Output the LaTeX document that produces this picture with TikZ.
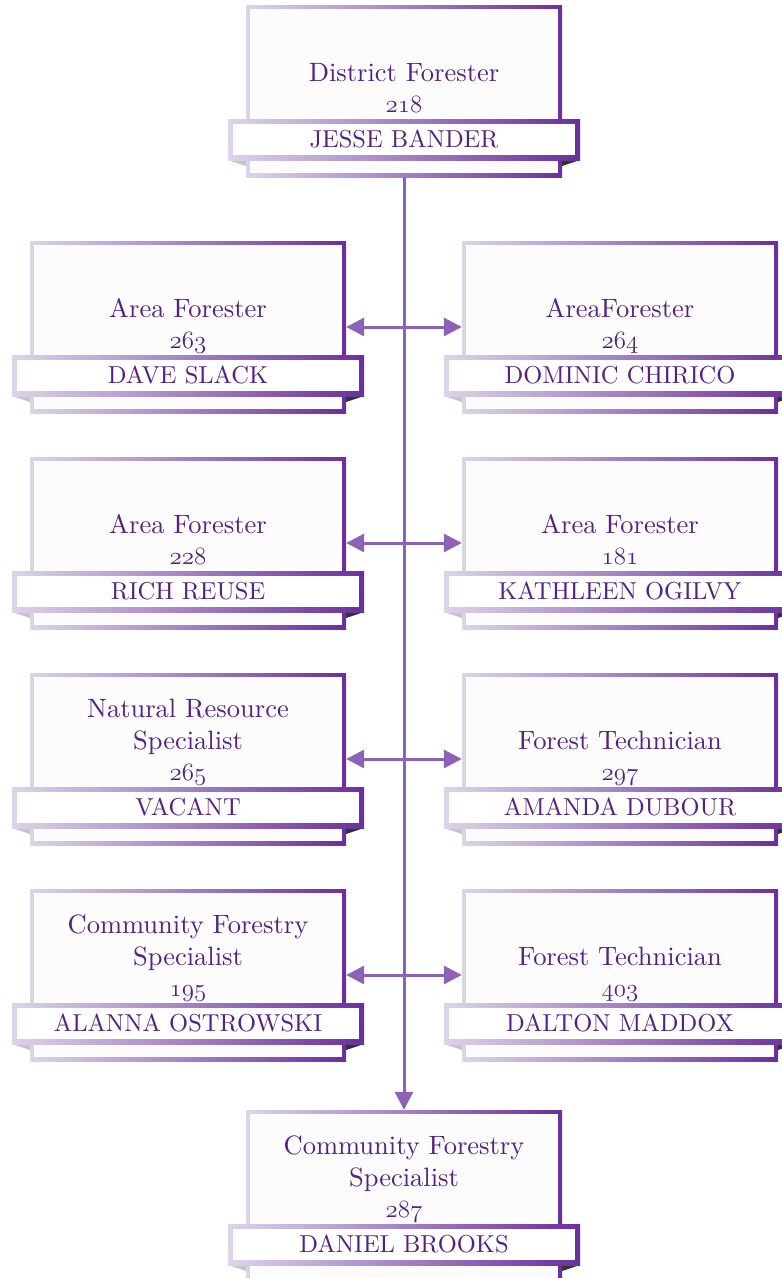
\documentclass[tikz,border=0pt]{standalone}
\usepackage{fontspec}
\setmainfont{lmroman10-regular}[Extension=.otf]
\usetikzlibrary{arrows.meta}
\definecolor{bl}{HTML}{DCD4E8}
\definecolor{br}{HTML}{6A2F9C}
\definecolor{tx}{HTML}{55207F}
\definecolor{ar}{HTML}{8A62B6}
\definecolor{inw}{HTML}{FCFCFD}
\newcommand\osnum[1]{{\usefont{OML}{cmm}{m}{it}#1}}
\tikzset{
 ttl/.style={anchor=base, text=tx, inner sep=0, font=\fontsize{26.5}{30}\selectfont},
 nm/.style={anchor=base, text=tx, inner sep=0, font=\fontsize{24.5}{28}\selectfont},
 conn/.style={draw=ar, line width=3pt},
 tip/.style={arrows={-Triangle[length=18pt,width=18pt]}},
 tips/.style={arrows={Triangle[length=18pt,width=18pt]-Triangle[length=18pt,width=18pt]}},
 anchorbox/.style={inner sep=0, minimum width=316pt, minimum height=172pt}
}
\newcommand\orgbox[7]{% name, x, y, line1, line2, number, person
 \shade[left color=bl,right color=br] (#2,#3) rectangle (#2+316,#3+172);
 \fill[inw] (#2+4,#3+4) rectangle (#2+312,#3+168);
 \fill[gray!45] (#2-18,#3+155) -- (#2,#3+155) -- (#2,#3+161) -- cycle;
 \fill[black!80] (#2+334,#3+155) -- (#2+316,#3+155) -- (#2+316,#3+161) -- cycle;
 \shade[left color=bl,right color=br] (#2-18,#3+114) rectangle (#2+334,#3+155);
 \fill[white] (#2-13,#3+119) rectangle (#2+329,#3+150);
 \node[anchorbox] (#1) at (#2+158,#3+86) {};
 \node[ttl] (#1-a) at (#2+158,#3+44) {#4};
 \node[ttl] (#1-b) at (#2+158,#3+76) {#5};
 \node[ttl] (#1-c) at (#2+158,#3+107) {\osnum{#6}};
 \node[nm] (#1-d) at (#2+158,#3+142) {#7};
}
\begin{document}
\begin{tikzpicture}[x=1pt,y=-1pt]
\clip (0,0) rectangle (782,1278);
\fill[white] (0,0) rectangle (782,1278);
\orgbox{top}{246}{5}{}{District Forester}{218}{JESSE BANDER}
\orgbox{l1}{30}{241}{}{Area Forester}{263}{DAVE SLACK}
\orgbox{r1}{462}{241}{}{AreaForester}{264}{DOMINIC CHIRICO}
\orgbox{l2}{30}{457}{}{Area Forester}{228}{RICH REUSE}
\orgbox{r2}{462}{457}{}{Area Forester}{181}{KATHLEEN OGILVY}
\orgbox{l3}{30}{673}{Natural Resource}{Specialist}{265}{VACANT}
\orgbox{r3}{462}{673}{}{Forest Technician}{297}{AMANDA DUBOUR}
\orgbox{l4}{30}{889}{Community Forestry}{Specialist}{195}{ALANNA OSTROWSKI}
\orgbox{r4}{462}{889}{}{Forest Technician}{403}{DALTON MADDOX}
\orgbox{bot}{246}{1110}{Community Forestry}{Specialist}{287}{DANIEL BROOKS}
\draw[conn,tip] (top.south) -- (bot.north);
\draw[conn,tips] (l1.east) -- (r1.west);
\draw[conn,tips] (l2.east) -- (r2.west);
\draw[conn,tips] (l3.east) -- (r3.west);
\draw[conn,tips] (l4.east) -- (r4.west);
\end{tikzpicture}
\end{document}
